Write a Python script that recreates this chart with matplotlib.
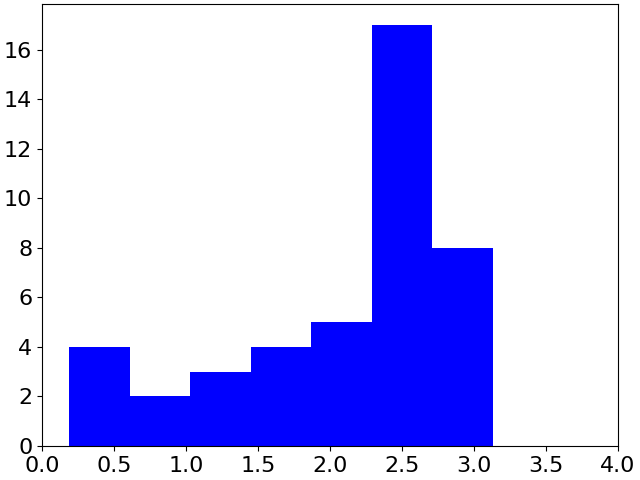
import matplotlib
matplotlib.use("Agg")
import matplotlib.pyplot as plt

# histogram bin edges and counts
bin_edges = [0.19, 0.61, 1.03, 1.45, 1.87, 2.29, 2.71, 3.13]
counts = [4, 2, 3, 4, 5, 17, 8]

plt.rcParams["font.size"] = 16

fig, ax = plt.subplots(figsize=(6.4, 4.8), dpi=100)
ax.hist(bin_edges[:-1], bins=bin_edges, weights=counts, color="blue")
ax.set_xlim(0, 4)
ax.set_xticks([0.0, 0.5, 1.0, 1.5, 2.0, 2.5, 3.0, 3.5, 4.0])
fig.subplots_adjust(left=0.0656, right=0.9656, top=0.9917, bottom=0.0708)
fig.savefig("out.png", dpi=100)
